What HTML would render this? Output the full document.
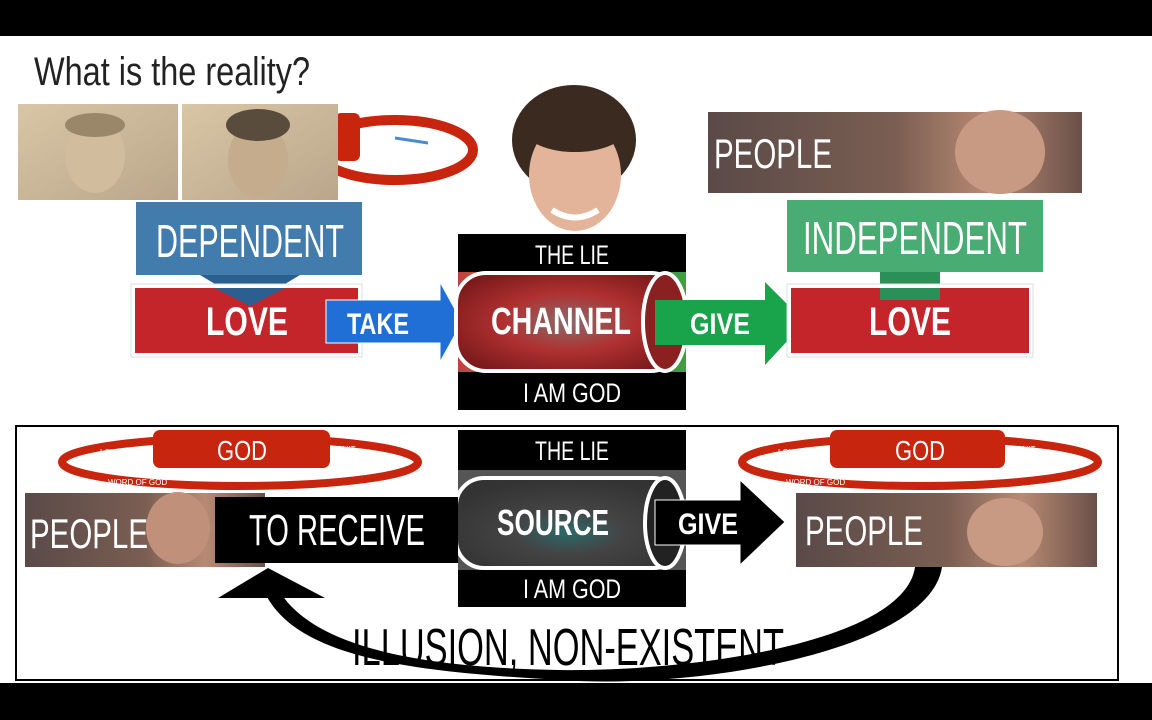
<!DOCTYPE html>
<html><head><meta charset="utf-8"><style>
html,body{margin:0;padding:0;background:#fff;}
svg{display:block;}
text{font-family:"Liberation Sans",sans-serif;}
</style></head><body>
<svg width="1152" height="720" viewBox="0 0 1152 720" xmlns="http://www.w3.org/2000/svg">
<defs>
<linearGradient id="sep" x1="0" y1="0" x2="1" y2="1"><stop offset="0" stop-color="#d8c6a6"/><stop offset="1" stop-color="#bba68a"/></linearGradient>
<linearGradient id="ppl" x1="0" y1="0" x2="1" y2="0"><stop offset="0" stop-color="#5a4a48"/><stop offset="0.5" stop-color="#7a5e52"/><stop offset="0.75" stop-color="#b88a74"/><stop offset="1" stop-color="#6a5048"/></linearGradient>
<radialGradient id="eye1" cx="0.5" cy="0.5" r="0.6"><stop offset="0" stop-color="#8a6a6a"/><stop offset="0.5" stop-color="#b03030"/><stop offset="1" stop-color="#7a1a1a"/></radialGradient>
<radialGradient id="eye2" cx="0.5" cy="0.6" r="0.6"><stop offset="0" stop-color="#2a6a6a"/><stop offset="0.4" stop-color="#444"/><stop offset="1" stop-color="#333"/></radialGradient>
<linearGradient id="rainbow" x1="0" y1="0" x2="1" y2="0"><stop offset="0" stop-color="#c04040"/><stop offset="0.3" stop-color="#c08030"/><stop offset="0.6" stop-color="#406090"/><stop offset="1" stop-color="#40a040"/></linearGradient>
</defs>
<rect x="0" y="0" width="1152" height="36" fill="#000"/>
<rect x="0" y="683" width="1152" height="37" fill="#000"/>
<text x="34" y="85" font-size="40" fill="#222" textLength="276" lengthAdjust="spacingAndGlyphs">What is the reality?</text>

<ellipse cx="395" cy="150" rx="78" ry="30" fill="none" stroke="#c8250f" stroke-width="10"/>
<rect x="335" y="113" width="25" height="48" rx="6" fill="#c8250f"/>
<text x="365" y="141" font-size="9" fill="#fff">FRUIT</text>
<line x1="395" y1="138" x2="428" y2="143" stroke="#4a8ad0" stroke-width="3"/>
<rect x="18" y="104" width="160" height="96" fill="url(#sep)"/>
<rect x="182" y="104" width="156" height="96" fill="url(#sep)"/>
<ellipse cx="95" cy="155" rx="30" ry="38" fill="#d2bc9e"/>
<ellipse cx="95" cy="125" rx="30" ry="12" fill="#9a8668"/>
<ellipse cx="258" cy="160" rx="30" ry="38" fill="#c4ac8c"/>
<ellipse cx="258" cy="125" rx="32" ry="16" fill="#5a4c3c"/>

<ellipse cx="574" cy="140" rx="62" ry="55" fill="#3a2a20"/>
<ellipse cx="575" cy="175" rx="46" ry="56" fill="#e4b49a"/>
<ellipse cx="575" cy="130" rx="50" ry="22" fill="#3a2a20"/>
<path d="M552 210 Q575 225 598 210" stroke="#fff" stroke-width="6" fill="none"/>

<rect x="136" y="202" width="226" height="73" fill="#2e6ea3" opacity="0.9"/>
<polygon points="200,275 300,275 250,305" fill="#2a5f90"/>
<text x="250" y="257" font-size="46" fill="#fff" text-anchor="middle" textLength="188" lengthAdjust="spacingAndGlyphs">DEPENDENT</text>
<rect x="131" y="284" width="231" height="73" fill="#fff" stroke="#ddd" stroke-width="1"/>
<rect x="135" y="288" width="223" height="65" fill="#c4252b"/>
<polygon points="215,288 285,288 250,306" fill="#2a5f90"/>
<text x="247" y="335" font-size="40" font-weight="bold" fill="#fff" text-anchor="middle" textLength="82" lengthAdjust="spacingAndGlyphs">LOVE</text>
<polygon points="326,300 440,300 440,282 462,322 440,362 440,343 326,343" fill="#1f6fd6" stroke="#fff" stroke-width="1"/>
<text x="378" y="334" font-size="30" font-weight="bold" fill="#fff" text-anchor="middle" textLength="62" lengthAdjust="spacingAndGlyphs">TAKE</text>

<rect x="458" y="234" width="228" height="176" fill="#000"/>
<rect x="458" y="272" width="228" height="100" fill="url(#rainbow)"/>
<rect x="456" y="273" width="225" height="98" rx="30" fill="url(#eye1)" stroke="#fff" stroke-width="4"/>
<ellipse cx="665" cy="322" rx="22" ry="49" fill="#8a2020" stroke="#fff" stroke-width="4"/>
<text x="572" y="264" font-size="27" fill="#fff" text-anchor="middle" textLength="74" lengthAdjust="spacingAndGlyphs">THE LIE</text>
<text x="561" y="334" font-size="38" font-weight="bold" fill="#fff" text-anchor="middle" textLength="140" lengthAdjust="spacingAndGlyphs">CHANNEL</text>
<text x="572" y="402" font-size="27" fill="#fff" text-anchor="middle" textLength="98" lengthAdjust="spacingAndGlyphs">I AM GOD</text>

<polygon points="655,300 765,300 765,282 805,322 765,365 765,345 655,345" fill="#19a34a"/>
<text x="720" y="334" font-size="30" font-weight="bold" fill="#fff" text-anchor="middle" textLength="60" lengthAdjust="spacingAndGlyphs">GIVE</text>

<rect x="708" y="112" width="374" height="81" fill="url(#ppl)"/>
<ellipse cx="1000" cy="152" rx="45" ry="42" fill="#c89a84"/>
<text x="714" y="168" font-size="42" fill="#fff" textLength="118" lengthAdjust="spacingAndGlyphs">PEOPLE</text>
<rect x="787" y="200" width="256" height="72" fill="#2fa160" opacity="0.88"/>
<rect x="880" y="272" width="60" height="28" fill="#2a9058"/>
<text x="915" y="254" font-size="46" fill="#fff" text-anchor="middle" textLength="224" lengthAdjust="spacingAndGlyphs">INDEPENDENT</text>
<rect x="787" y="284" width="246" height="73" fill="#fff" stroke="#ddd" stroke-width="1"/>
<rect x="791" y="288" width="238" height="65" fill="#c4252b"/>
<rect x="880" y="288" width="60" height="12" fill="#2a9058"/>
<text x="910" y="335" font-size="40" font-weight="bold" fill="#fff" text-anchor="middle" textLength="82" lengthAdjust="spacingAndGlyphs">LOVE</text>

<rect x="16" y="426" width="1102" height="254" fill="none" stroke="#000" stroke-width="2"/>

<ellipse cx="240" cy="462" rx="178" ry="24" fill="none" stroke="#c8250f" stroke-width="8"/>
<rect x="153" y="430" width="177" height="38" rx="7" fill="#c8250f"/>
<text x="242" y="460" font-size="28" fill="#fff" text-anchor="middle" textLength="50" lengthAdjust="spacingAndGlyphs">GOD</text>
<text x="100" y="455" font-size="8" fill="#fff">LOVE</text>
<text x="332" y="452" font-size="8" fill="#fff">FRUIT</text>
<text x="108" y="485" font-size="8" fill="#fff">WORD OF GOD</text>
<ellipse cx="920" cy="462" rx="178" ry="24" fill="none" stroke="#c8250f" stroke-width="8"/>
<rect x="830" y="430" width="175" height="38" rx="7" fill="#c8250f"/>
<text x="920" y="460" font-size="28" fill="#fff" text-anchor="middle" textLength="50" lengthAdjust="spacingAndGlyphs">GOD</text>
<text x="778" y="455" font-size="8" fill="#fff">LOVE</text>
<text x="1012" y="452" font-size="8" fill="#fff">FRUIT</text>
<text x="786" y="485" font-size="8" fill="#fff">WORD OF GOD</text>

<rect x="458" y="430" width="228" height="177" fill="#000"/>
<rect x="458" y="470" width="228" height="100" fill="#555"/>
<rect x="456" y="478" width="225" height="90" rx="28" fill="url(#eye2)" stroke="#fff" stroke-width="4"/>
<ellipse cx="665" cy="523" rx="20" ry="45" fill="#222" stroke="#fff" stroke-width="4"/>
<text x="572" y="460" font-size="27" fill="#fff" text-anchor="middle" textLength="74" lengthAdjust="spacingAndGlyphs">THE LIE</text>
<text x="553" y="535" font-size="36" font-weight="bold" fill="#fff" text-anchor="middle" textLength="112" lengthAdjust="spacingAndGlyphs">SOURCE</text>
<text x="572" y="598" font-size="27" fill="#fff" text-anchor="middle" textLength="98" lengthAdjust="spacingAndGlyphs">I AM GOD</text>

<rect x="25" y="493" width="240" height="74" fill="url(#ppl)"/>
<ellipse cx="178" cy="528" rx="32" ry="36" fill="#c0907a"/>
<text x="30" y="548" font-size="42" fill="#fff" textLength="118" lengthAdjust="spacingAndGlyphs">PEOPLE</text>
<rect x="215" y="497" width="243" height="66" fill="#000"/>
<text x="337" y="545" font-size="44" fill="#fff" text-anchor="middle" textLength="176" lengthAdjust="spacingAndGlyphs">TO RECEIVE</text>

<polygon points="655,500 740,500 740,480 785,522 740,565 740,545 655,545" fill="#000" stroke="#fff" stroke-width="1"/>
<text x="708" y="534" font-size="30" font-weight="bold" fill="#fff" text-anchor="middle" textLength="60" lengthAdjust="spacingAndGlyphs">GIVE</text>

<rect x="796" y="493" width="301" height="74" fill="url(#ppl)"/>
<ellipse cx="1005" cy="532" rx="38" ry="34" fill="#c89a84"/>
<text x="805" y="545" font-size="42" fill="#fff" textLength="118" lengthAdjust="spacingAndGlyphs">PEOPLE</text>

<path d="M942 567 C930 650 700 690 560 680 C420 672 300 660 266 595 L282 595 C320 650 430 668 560 670 C700 672 905 640 915 567 Z" fill="#000"/>
<polygon points="218,598 325,598 268,568" fill="#000"/>
<text x="568" y="665" font-size="52" fill="#000" text-anchor="middle" textLength="432" lengthAdjust="spacingAndGlyphs">ILLUSION, NON-EXISTENT</text>
</svg>
</body></html>
